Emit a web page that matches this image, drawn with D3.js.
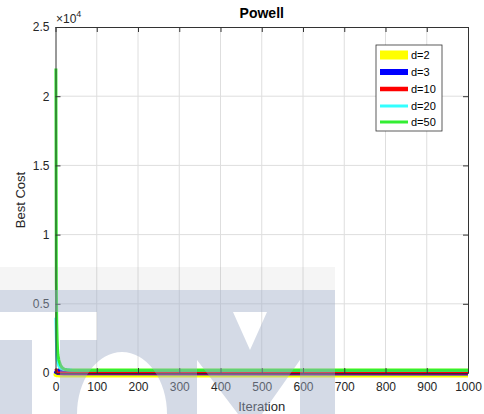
<!DOCTYPE html>
<html>
<head>
<meta charset="utf-8">
<script src="https://cdn.jsdelivr.net/npm/d3@7"></script>
<style>
  html, body { margin: 0; padding: 0; background: #fff; }
  svg { display: block; font-family: "Liberation Sans", Arial, Helvetica, sans-serif; }
</style>
</head>
<body>
<svg id="chart" width="484" height="414"></svg>
<script>
// ---------------- data ----------------
const chartTitle = "Powell";
const xLabel = "Iteration";
const yLabel = "Best Cost";
const legendLabels = ["d=2", "d=3", "d=10", "d=20", "d=50"];

const xTicks = [0, 100, 200, 300, 400, 500, 600, 700, 800, 900, 1000];
const yTicks = [0, 5000, 10000, 15000, 20000, 25000];
const yTickLabels = ["0", "0.5", "1", "1.5", "2", "2.5"];

// d=2
const iterD2 = [1, 2, 3, 5, 10, 1000];
const costD2 = [100, 60, 30, 10, 5, 0];
// d=3
const iterD3 = [1, 2, 3, 6, 20, 1000];
const costD3 = [200, 160, 120, 80, 50, 30];
// d=10
const iterD10 = [1, 2, 3, 5, 10, 1000];
const costD10 = [300, 150, 60, 20, 5, 0];
// d=20
const iterD20 = [1, 2, 3, 4, 6, 8, 12, 20, 40, 1000];
const costD20 = [4000, 2600, 1300, 950, 700, 520, 350, 250, 210, 200];
// d=50
const iterD50 = [1, 2, 3, 4, 5, 6, 8, 10, 12, 15, 18, 22, 28, 34, 50, 1000];
const costD50 = [22000, 6500, 3600, 2400, 1700, 1300, 950, 750, 580, 430, 340, 270, 230, 210, 200, 200];

// ---------------- styles ----------------
const seriesColors = ["#ffff00", "#0000ff", "#ff0000", "#33ffff", "#33ee33"];
const seriesWidths = [9, 6, 4.5, 3, 3];
const plotWidths = [9, 6, 3, 3, 3];

// ---------------- layout ----------------
const svg = d3.select("#chart");
const plotLeft = 55.5, plotRight = 468, plotTop = 27, plotBottom = 373;

const x = d3.scaleLinear().domain([0, 1000]).range([plotLeft, plotRight]);
const y = d3.scaleLinear().domain([0, 25000]).range([plotBottom, plotTop]);

const series = [
  { label: legendLabels[0], it: iterD2, cost: costD2 },
  { label: legendLabels[1], it: iterD3, cost: costD3 },
  { label: legendLabels[2], it: iterD10, cost: costD10 },
  { label: legendLabels[3], it: iterD20, cost: costD20 },
  { label: legendLabels[4], it: iterD50, cost: costD50 }
].map((s, i) => ({ ...s, color: seriesColors[i], width: seriesWidths[i], pw: plotWidths[i],
  pts: s.it.map((v, j) => [v, s.cost[j]]) }));

const axisColor = "#333333";
const textColor = "#262626";

// plot background
svg.append("rect").attr("x", plotLeft).attr("y", plotTop)
  .attr("width", plotRight - plotLeft).attr("height", plotBottom - plotTop)
  .attr("fill", "#ffffff");

// grid
const grid = svg.append("g").attr("stroke", "#dedede").attr("stroke-width", 1);
grid.selectAll("line.gx").data(xTicks.slice(1, -1)).join("line")
  .attr("x1", d => x(d)).attr("x2", d => x(d))
  .attr("y1", plotTop).attr("y2", plotBottom);
grid.selectAll("line.gy").data(yTicks.slice(1, -1)).join("line")
  .attr("x1", plotLeft).attr("x2", plotRight)
  .attr("y1", d => y(d)).attr("y2", d => y(d));

// lines
const line = d3.line().x(d => x(d[0])).y(d => y(d[1]));
const clipId = "plotclip";
svg.append("clipPath").attr("id", clipId).append("rect")
  .attr("x", plotLeft - 2).attr("y", plotTop).attr("width", plotRight - plotLeft + 2)
  .attr("height", plotBottom - plotTop + 6);
svg.append("g").attr("clip-path", `url(#${clipId})`)
  .selectAll("path").data(series).join("path")
  .attr("d", d => line(d.pts))
  .attr("fill", "none")
  .attr("stroke", d => d.color)
  .attr("stroke-width", d => d.pw)
  .attr("stroke-linejoin", "round");

// axes
function styleAxis(g) {
  g.select(".domain").attr("stroke", axisColor);
  g.selectAll(".tick line").attr("stroke", axisColor);
  g.selectAll(".tick text").attr("fill", textColor).attr("font-size", 12)
    .attr("font-family", "'Liberation Sans', Arial, sans-serif");
}
const xAxis = d3.axisBottom(x).tickValues(xTicks).tickFormat(d3.format("d"))
  .tickSizeInner(-5).tickSizeOuter(0).tickPadding(9);
svg.append("g").attr("transform", `translate(0,${plotBottom})`).call(xAxis).call(styleAxis);

const xAxisTop = d3.axisTop(x).tickValues(xTicks).tickFormat("")
  .tickSizeInner(-5).tickSizeOuter(0);
svg.append("g").attr("transform", `translate(0,${plotTop})`).call(xAxisTop).call(styleAxis);

const yAxis = d3.axisLeft(y).tickValues(yTicks).tickFormat((d, i) => yTickLabels[i])
  .tickSizeInner(-5).tickSizeOuter(0).tickPadding(6);
svg.append("g").attr("transform", `translate(${plotLeft},0)`).call(yAxis).call(styleAxis);

const yAxisRight = d3.axisRight(y).tickValues(yTicks).tickFormat("")
  .tickSizeInner(-5).tickSizeOuter(0);
svg.append("g").attr("transform", `translate(${plotRight},0)`).call(yAxisRight).call(styleAxis);

// exponent label
const expText = svg.append("text").attr("x", 56).attr("y", 23)
  .attr("fill", textColor).attr("font-size", 12);
expText.append("tspan").text("\u00d710");
expText.append("tspan").attr("dy", -6).attr("font-size", 9).text("4");

// title
svg.append("text").attr("x", (plotLeft + plotRight) / 2).attr("y", 18)
  .attr("text-anchor", "middle").attr("font-weight", "bold").attr("font-size", 14)
  .attr("fill", "#000").text(chartTitle);

// axis labels
svg.append("text").attr("x", (plotLeft + plotRight) / 2).attr("y", 411)
  .attr("text-anchor", "middle").attr("font-size", 13).attr("fill", textColor).text(xLabel);
svg.append("text").attr("transform", `translate(25,${(plotTop + plotBottom) / 2}) rotate(-90)`)
  .attr("text-anchor", "middle").attr("font-size", 13).attr("fill", textColor).text(yLabel);

// legend
const lg = svg.append("g").attr("transform", "translate(376,45)");
lg.append("rect").attr("x", 0).attr("y", 0).attr("width", 66).attr("height", 86)
  .attr("fill", "#fff").attr("stroke", "#333").attr("stroke-width", 0.8);
const rowY = [10, 27, 44, 61, 77];
const rows = lg.selectAll("g.row").data(series).join("g")
  .attr("transform", (d, i) => `translate(0,${rowY[i]})`);
rows.append("line").attr("x1", 4).attr("x2", 32).attr("y1", 0).attr("y2", 0)
  .attr("stroke", d => d.color).attr("stroke-width", d => d.width);
rows.append("text").attr("x", 35).attr("y", 4).attr("font-size", 11)
  .attr("fill", "#000").text(d => d.label);

// faint background watermark overlay seen in the reference image
const wm = svg.append("g").attr("pointer-events", "none");
wm.append("rect").attr("x", 0).attr("y", 267).attr("width", 335).attr("height", 23)
  .attr("fill", "#808080").attr("opacity", 0.08);
const wmPath =
  "M0,290 H335 V312 H0 Z " +
  "M97,312 H167 V340 H97 Z " +
  "M0,340 H32 V414 H0 Z " +
  "M60,340 H167 V414 H60 Z " +
  "M77,414 A45,62 0 0 1 167,414 Z " +
  "M167,312 H233 L250,350 L267,312 H335 V414 H300 V360 L262,414 H238 L197,360 V414 H167 Z";
wm.append("path").attr("d", wmPath).attr("fill-rule", "evenodd")
  .attr("fill", "rgb(160,172,200)").attr("opacity", 0.45);
</script>
</body>
</html>
